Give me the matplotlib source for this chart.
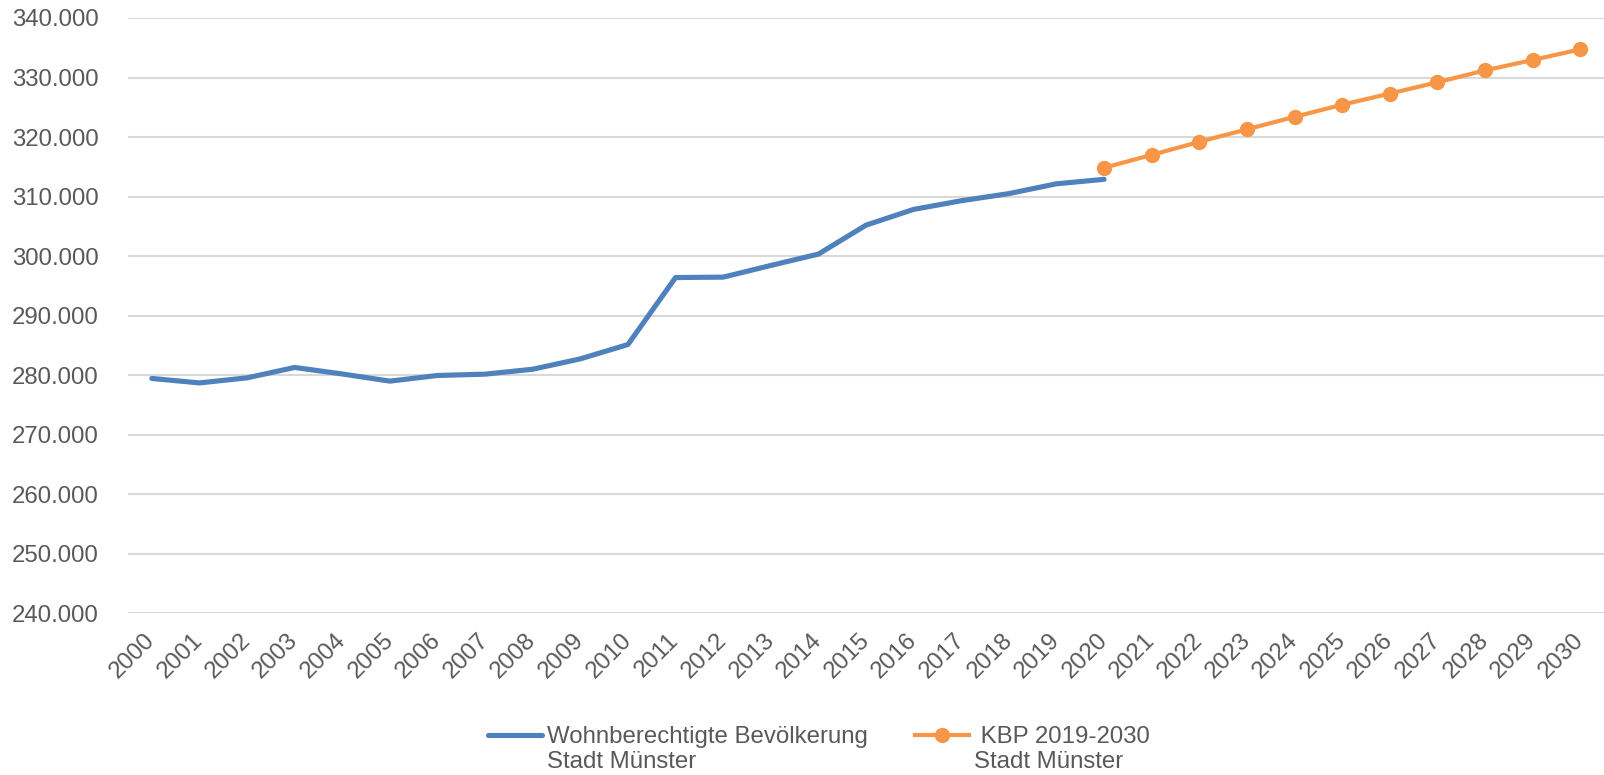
import matplotlib
matplotlib.use("Agg")
import matplotlib.pyplot as plt
from matplotlib.legend_handler import HandlerLine2D
from matplotlib.ticker import FuncFormatter

# ---- data -----------------------------------------------------------------
years = [str(y) for y in range(2000, 2031)]
hist_years = years[:21]                     # 2000..2020
hist_pop = [279450, 278700, 279550, 281300, 280200, 279000, 279950, 280170,
            281000, 282740, 285150, 296400, 296470, 298430, 300340, 305200,
            307850, 309300, 310500, 312150, 312900]
kbp_years = years[20:]                      # 2020..2030
kbp_pop = [314850, 317000, 319200, 321300, 323400, 325430, 327300, 329200,
           331200, 332940, 334730]

hist_label = "Wohnberechtigte Bevölkerung\nStadt Münster"
kbp_label = " KBP 2019-2030\nStadt Münster"

BLUE = "#4F81BD"
ORANGE = "#F79646"
GREY = "#595959"
FS = 17.3


class FirstLineHandler(HandlerLine2D):
    """Legendensymbol auf Höhe der ersten Textzeile (wie Excel)."""
    def create_artists(self, legend, orig_handle, xdescent, ydescent, width, height,
                       fontsize, trans):
        arts = super().create_artists(legend, orig_handle, xdescent, ydescent, width,
                                      height, fontsize, trans)
        for a in arts:
            a.set_ydata([y + 0.6 * fontsize for y in a.get_ydata()])
        return arts


plt.rcParams["font.family"] = ["Liberation Sans", "DejaVu Sans"]
plt.rcParams["font.size"] = FS

fig = plt.figure(figsize=(16.04, 7.75), dpi=100)
ax = fig.add_axes([128 / 1604, 1 - 613.3 / 775, 1 - 128 / 1604, (613.3 - 18) / 775])

xi = {y: i for i, y in enumerate(years)}
ax.plot([xi[y] for y in hist_years], hist_pop, color=BLUE, lw=3.7,
        solid_capstyle="round", solid_joinstyle="round", label=hist_label, zorder=3)
ax.plot([xi[y] for y in kbp_years], kbp_pop, color=ORANGE, lw=3.0, marker="o",
        ms=10, solid_joinstyle="round", label=kbp_label, zorder=4)

ax.set_xlim(-0.5, len(years) - 0.5)
ax.set_ylim(240000, 340000)
ax.set_yticks(range(240000, 340001, 10000))
ax.yaxis.set_major_formatter(FuncFormatter(lambda v, _: f"{int(v):,}".replace(",", ".")))
ax.set_xticks(range(len(years)))
ax.set_xticklabels(years, rotation=45, ha="right", va="center", rotation_mode="anchor")

ax.grid(axis="y", color="#D9D9D9", lw=1.5)
ax.set_axisbelow(True)
for s in ax.spines.values():
    s.set_visible(False)
ax.tick_params(axis="both", length=0, colors=GREY, labelsize=FS)
ax.tick_params(axis="y", pad=21)
ax.tick_params(axis="x", pad=17)

leg = fig.legend(loc="center", bbox_to_anchor=(0.5105, 0.033), ncol=2, frameon=False,
                 handlelength=2.25, handletextpad=0.2, columnspacing=1.95,
                 fontsize=FS, labelcolor=GREY,
                 handler_map={plt.Line2D: FirstLineHandler()})
for t in leg.get_texts():
    t.set_linespacing(1.15)

fig.savefig("out.png", dpi=100)
